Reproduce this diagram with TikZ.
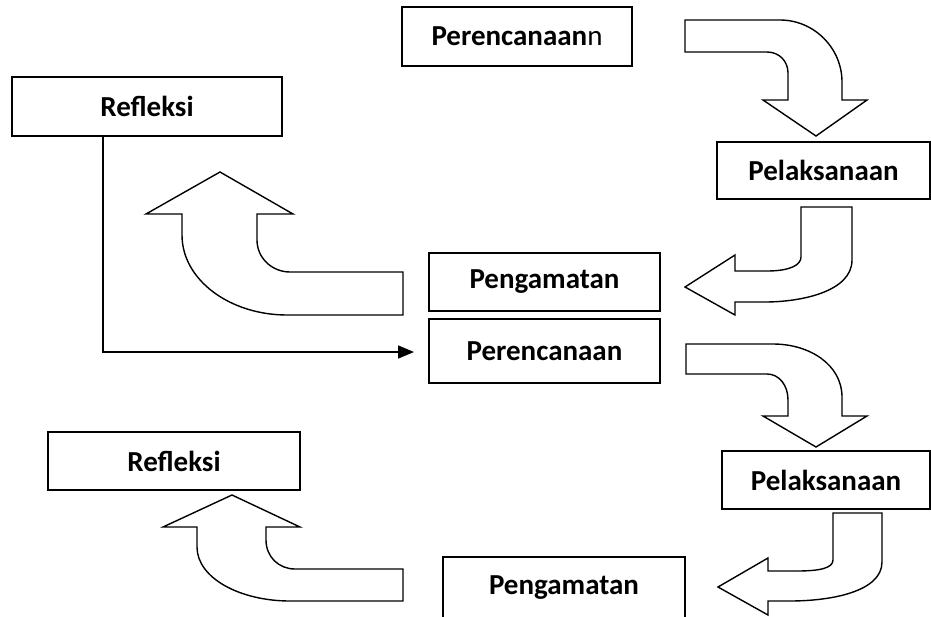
\documentclass[tikz,border=0pt]{standalone}
\usepackage{fontspec}
\setmainfont{Carlito}
\usetikzlibrary{arrows.meta}
\tikzset{
  box/.style={draw, line width=1.6pt, fill=white, inner sep=0pt, font=\fontsize{29}{34}\selectfont\bfseries},
  blockarrow/.style={draw, line width=1.4pt, fill=white, line join=miter},
  conn/.style={line width=1.6pt, -{Triangle[length=16pt,width=13pt]}}
}
\begin{document}
\begin{tikzpicture}[x=1pt,y=-1pt]
\useasboundingbox (0,0) rectangle (931,616);
% boxes
\node[box, minimum width=230pt, minimum height=59pt] (per1) at (517,36.5) {Perencanaan\mdseries n};
\node[box, minimum width=270pt, minimum height=59pt] (ref1) at (147,106.5) {Refleksi};
\node[box, minimum width=213pt, minimum height=57pt] (pel1) at (823.5,170.5) {Pelaksanaan};
\node[box, minimum width=231pt, minimum height=58pt] (pen1) at (544.5,282) {Pengamatan};
\node[box, minimum width=231pt, minimum height=64pt] (per2) at (544.5,351) {Perencanaan};
\node[box, minimum width=208pt, minimum height=58pt] (pel2) at (826,480) {Pelaksanaan};
\node[box, minimum width=242pt, minimum height=62pt] (pen2) at (564,588) {Pengamatan};
\node[box, minimum width=252pt, minimum height=58pt] (ref2) at (174,461) {Refleksi};
% block arrows
% A1: per1 -> pel1
\draw[blockarrow] (685,20) -- (780,20) .. controls (814,20) and (842,48) .. (842,82)
  -- (842,100) -- (867,100) -- (816,136) -- (763,100) -- (788,100) -- (788,73)
  .. controls (788,61) and (779,52) .. (767,52) -- (685,52) -- cycle;
% A2: pel1 -> pen1
\draw[blockarrow] (801,207) -- (852,207) -- (852,260) .. controls (852,292) and (800,302) .. (765,302)
  -- (735,302) -- (735,315) -- (685,287) -- (735,255) -- (735,271) -- (767,271)
  .. controls (790,271) and (801,265) .. (801,257) -- cycle;
% A3: pen1 -> ref1
\draw[blockarrow] (220,172) -- (293,214) -- (257,214) -- (257,240)
  .. controls (257,258) and (272,272) .. (290,272) -- (403,272) -- (403,315) -- (287,315)
  .. controls (230,315) and (182,280) .. (182,235) -- (182,214) -- (146,214) -- cycle;
% A4: per2 -> pel2
\draw[blockarrow] (686,344) -- (773,344) .. controls (810,344) and (842,365) .. (842,397)
  -- (842,416) -- (867,416) -- (816,447) -- (763,416) -- (788,416) -- (788,400)
  .. controls (788,385) and (779,374) .. (767,374) -- (686,374) -- cycle;
% A5: pel2 -> pen2
\draw[blockarrow] (833,513) -- (882,513) -- (882,562) .. controls (882,592) and (830,601) .. (790,601)
  -- (768,601) -- (768,615) -- (718,587) -- (768,558) -- (768,571) -- (797,571)
  .. controls (820,571) and (833,568) .. (833,560) -- cycle;
% A6: pen2 -> ref2
\draw[blockarrow] (232,495) -- (300,527) -- (266,527) -- (266,540)
  .. controls (266,557) and (279,569) .. (295,569) -- (403,569) -- (403,601) -- (290,601)
  .. controls (240,601) and (197,578) .. (197,547) -- (197,527) -- (163,527) -- cycle;
% connector
\coordinate (c1) at (414,352);
\draw[conn] ([xshift=92pt]ref1.south west) |- (c1);
\end{tikzpicture}
\end{document}
